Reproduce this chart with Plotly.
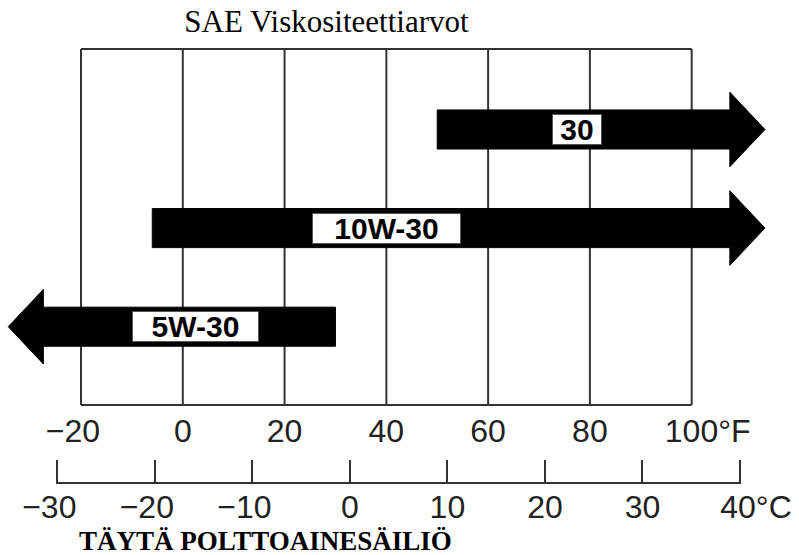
import plotly.graph_objects as go

# ---------------- data ----------------
F_TICKS = [-20, 0, 20, 40, 60, 80, 100]
F_LABELS = ["−20\u2002", "0", "20", "40", "60", "80", "\u2003100°F"]
C_TICKS = [-30, -20, -10, 0, 10, 20, 30, 40]
C_LABELS = ["−30\u2002", "−20\u2002", "−10\u2002", "0", "10", "20", "30", "\u200340°C"]

GRADES = ["30", "10W-30", "5W-30"]
LOW_F = [50, -6, None]      # None = open-ended toward cold
HIGH_F = [None, None, 30]   # None = open-ended toward hot

TITLE = "SAE Viskositeettiarvot"
FOOTER = "TÄYTÄ POLTTOAINESÄILIÖ"

# ---------------- style / layout ----------------
W, H = 799, 555
F_RANGE = [-35.92, 121.09]
C_PX_PER_DEG = 9.753
C_PAD = 0.15
RIGHT_TIP_F = 114.4
LEFT_TIP_F = -34.3
HEAD_LEN_F = 6.9
BODY_HALF = 0.198
HEAD_HALF = 0.378
LABEL_X_F = [77.5, 40, 2.5]
LABEL_BOX_W = [50, 149, 127]
LABEL_BOX_H = 31
LINE_COLOR = "#333333"
TICK_FONT = dict(family="Liberation Sans, Arial, DejaVu Sans", size=32, color="#222222")

fig = go.Figure()

# frame + vertical grid
shapes = []
for v in F_TICKS:
    shapes.append(dict(type="line", xref="x", yref="y domain", x0=v, x1=v, y0=0, y1=1,
                       line=dict(color=LINE_COLOR, width=2), layer="below"))
for yy in (0, 1):
    shapes.append(dict(type="line", xref="x", yref="y domain", x0=F_TICKS[0], x1=F_TICKS[-1],
                       y0=yy, y1=yy, line=dict(color=LINE_COLOR, width=2), layer="below"))

# arrows
for i, (g, lo, hi) in enumerate(zip(GRADES, LOW_F, HIGH_F)):
    if hi is None:
        s = lo
        tip = RIGHT_TIP_F
        hb = tip - HEAD_LEN_F
    else:
        s = hi
        tip = LEFT_TIP_F
        hb = tip + HEAD_LEN_F
    xs = [s, hb, hb, tip, hb, hb, s, s]
    ys = [i - BODY_HALF, i - BODY_HALF, i - HEAD_HALF, i, i + HEAD_HALF, i + BODY_HALF,
          i + BODY_HALF, i - BODY_HALF]
    fig.add_trace(go.Scatter(x=xs, y=ys, mode="lines", fill="toself", fillcolor="black",
                             line=dict(color="black", width=1), hoverinfo="skip",
                             showlegend=False))

# dummy trace for celsius axis
fig.add_trace(go.Scatter(x=C_TICKS, y=[0.5] * len(C_TICKS), xaxis="x2", yaxis="y2",
                         mode="markers", marker=dict(opacity=0), hoverinfo="skip",
                         showlegend=False))

annotations = []
for i, g in enumerate(GRADES):
    annotations.append(dict(x=LABEL_X_F[i], y=i, xref="x", yref="y", text=f"<b>{g}</b>",
                            showarrow=False, bgcolor="white", bordercolor="#555555",
                            borderwidth=1, borderpad=0, width=LABEL_BOX_W[i] - 2,
                            height=LABEL_BOX_H - 2,
                            font=dict(family="Liberation Sans, Arial", size=30, color="black")))

annotations.append(dict(x=77 / W, y=(H - 541) / H, xref="paper", yref="paper",
                        text=f"<b>{FOOTER}</b>",
                        showarrow=False, xanchor="left", yanchor="middle",
                        font=dict(family="Liberation Serif, Times New Roman, serif", size=27,
                                  color="black")))

c_left_px = 57.3 - C_PAD * C_PX_PER_DEG
c_right_px = 740 + C_PAD * C_PX_PER_DEG

fig.update_layout(
    width=W, height=H,
    margin=dict(l=0, r=0, t=0, b=0, autoexpand=False),
    paper_bgcolor="white", plot_bgcolor="rgba(0,0,0,0)",
    showlegend=False,
    title=dict(text=TITLE, x=326.5 / W, xanchor="center", yref="container",
               y=1 - 21 / H, yanchor="middle",
               font=dict(family="Liberation Serif, Times New Roman, serif", size=31,
                         color="black")),
    xaxis=dict(domain=[0, 1], range=F_RANGE, tickvals=F_TICKS, ticktext=F_LABELS,
               showgrid=False, zeroline=False, showline=False, ticks="",
               tickfont=TICK_FONT, fixedrange=True, automargin=False,
               ticklabelstandoff=4),
    yaxis=dict(domain=[(H - 405) / H, (H - 49) / H], range=[2.794, -0.816],
               visible=False, fixedrange=True, automargin=False),
    xaxis2=dict(domain=[c_left_px / W, c_right_px / W],
                range=[C_TICKS[0] - C_PAD, C_TICKS[-1] + C_PAD], anchor="y2",
                tickvals=C_TICKS, ticktext=C_LABELS, showgrid=False, zeroline=False,
                showline=True, linecolor=LINE_COLOR, linewidth=2, ticks="inside",
                ticklen=22, tickwidth=2, tickcolor=LINE_COLOR, tickfont=TICK_FONT,
                fixedrange=True, automargin=False, ticklabelstandoff=-4),
    yaxis2=dict(domain=[(H - 481.7) / H, (H - 470) / H], range=[0, 1], visible=False,
                fixedrange=True, automargin=False),
    shapes=shapes,
    annotations=annotations,
)

fig.write_html("out.html", config={"displayModeBar": False},
               post_script="document.body.style.margin='0px';document.body.style.overflow='hidden';")
